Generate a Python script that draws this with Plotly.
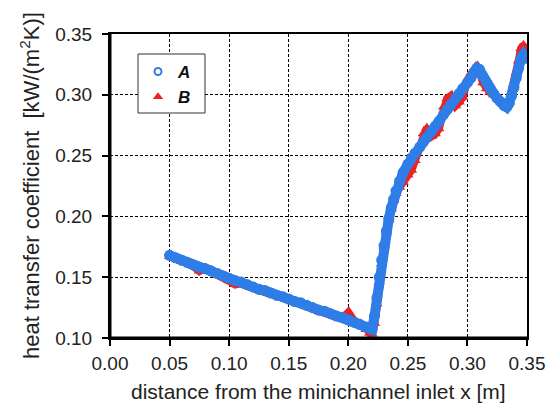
import plotly.graph_objects as go

x_pos = [0.050, 0.055, 0.060, 0.065, 0.070, 0.075, 0.080, 0.085, 0.090, 0.095,
         0.100, 0.105, 0.110, 0.115, 0.120, 0.125, 0.130, 0.135, 0.140, 0.145,
         0.150, 0.155, 0.160, 0.165, 0.170, 0.175, 0.180, 0.185, 0.190, 0.195,
         0.200, 0.205, 0.210, 0.215, 0.218, 0.220, 0.222, 0.224, 0.226, 0.228,
         0.230, 0.232, 0.234, 0.236, 0.238, 0.240, 0.243, 0.246, 0.250, 0.253,
         0.256, 0.260, 0.263, 0.266, 0.270, 0.273, 0.276, 0.280, 0.283, 0.286,
         0.290, 0.293, 0.296, 0.300, 0.303, 0.306, 0.308, 0.310, 0.313, 0.316,
         0.319, 0.322, 0.325, 0.328, 0.331, 0.333, 0.335, 0.337, 0.339, 0.341,
         0.343, 0.345, 0.347, 0.349]

h_A = [0.168, 0.166, 0.164, 0.162, 0.160, 0.158, 0.157, 0.155, 0.153, 0.151,
       0.149, 0.147, 0.146, 0.144, 0.142, 0.140, 0.139, 0.137, 0.135, 0.134,
       0.132, 0.130, 0.129, 0.127, 0.125, 0.123, 0.122, 0.120, 0.118, 0.117,
       0.115, 0.113, 0.111, 0.109, 0.108, 0.107, 0.118, 0.133, 0.150, 0.164,
       0.176, 0.188, 0.198, 0.207, 0.214, 0.221, 0.229, 0.236, 0.243, 0.248,
       0.252, 0.257, 0.261, 0.265, 0.270, 0.274, 0.278, 0.284, 0.288, 0.292,
       0.297, 0.301, 0.305, 0.310, 0.314, 0.319, 0.322, 0.321, 0.315, 0.310,
       0.305, 0.301, 0.297, 0.294, 0.291, 0.290, 0.293, 0.299, 0.306, 0.314,
       0.322, 0.330, 0.333, 0.330]

h_B = [0.167, 0.166, 0.163, 0.162, 0.159, 0.155, 0.158, 0.156, 0.152, 0.150,
       0.147, 0.144, 0.145, 0.143, 0.141, 0.140, 0.138, 0.136, 0.135, 0.133,
       0.131, 0.130, 0.128, 0.126, 0.125, 0.122, 0.121, 0.119, 0.117, 0.116,
       0.121, 0.114, 0.112, 0.107, 0.104, 0.103, 0.112, 0.128, 0.146, 0.161,
       0.175, 0.187, 0.197, 0.206, 0.213, 0.219, 0.224, 0.228, 0.234, 0.238,
       0.246, 0.258, 0.268, 0.273, 0.266, 0.268, 0.272, 0.290, 0.297, 0.299,
       0.291, 0.294, 0.298, 0.312, 0.318, 0.321, 0.323, 0.320, 0.310, 0.305,
       0.302, 0.300, 0.297, 0.294, 0.291, 0.290, 0.294, 0.301, 0.309, 0.318,
       0.328, 0.338, 0.341, 0.334]

x_ticks = [0.00, 0.05, 0.10, 0.15, 0.20, 0.25, 0.30, 0.35]
y_ticks = [0.10, 0.15, 0.20, 0.25, 0.30, 0.35]

BLUE = "#2f7de6"
RED = "#ee2222"
FONT = "Liberation Sans, Arial, sans-serif"

# plot area is 417 x 304 px
PW, PH = 417, 304

fig = go.Figure()
# data (B below A): connecting band + markers
fig.add_trace(go.Scatter(x=x_pos, y=h_B, mode="lines+markers", showlegend=False,
                         line=dict(color=RED, width=8),
                         marker=dict(symbol="triangle-up", size=10, color=RED)))
fig.add_trace(go.Scatter(x=x_pos, y=h_A, mode="lines+markers", showlegend=False,
                         line=dict(color=BLUE, width=10),
                         marker=dict(symbol="circle", size=11, color=BLUE)))
# legend entries
fig.add_trace(go.Scatter(x=[None], y=[None], mode="markers", name="<b><i>A</i></b>",
                         marker=dict(symbol="circle-open", size=7, color=BLUE,
                                     line=dict(width=2, color=BLUE))))
fig.add_trace(go.Scatter(x=[None], y=[None], mode="markers", name="<b><i>B</i></b>",
                         marker=dict(symbol="triangle-up", size=9, color=RED)))

axis_common = dict(showline=True, linecolor="black", linewidth=2, mirror=True,
                   ticks="outside", ticklen=6, tickwidth=2, tickcolor="black",
                   showgrid=True, gridcolor="black", gridwidth=1, griddash="3px,2px",
                   zeroline=False, tickfont=dict(family=FONT, size=19, color="#222"),
                   tickformat=".2f", automargin=False)

fig.update_xaxes(range=[0, 0.35], tickvals=x_ticks, ticklabelstandoff=1, **axis_common)
fig.update_yaxes(range=[0.10, 0.35], tickvals=y_ticks, ticklabelstandoff=6, **axis_common)

# axis titles (offsets in px from plot area, converted to paper units)
fig.add_annotation(text="distance from the minichannel inlet x [m]", xref="paper", yref="paper",
                   x=0.5, y=-53 / PH, xanchor="center", yanchor="middle",
                   showarrow=False, font=dict(family=FONT, size=21, color="#222"))
fig.add_annotation(text="heat transfer coefficient  [kW/(m<sup>2</sup>K)]", xref="paper",
                   yref="paper", x=-80 / PW, y=0.5, xanchor="center",
                   yanchor="middle", textangle=-90, showarrow=False,
                   font=dict(family=FONT, size=22, color="#222"))

# legend box
fig.add_shape(type="rect", xref="paper", yref="paper",
              x0=28/PW, x1=95/PW, y0=1-79/PH, y1=1-20/PH,
              fillcolor="white", line=dict(color="#333", width=1), layer="above")
# thicker left / bottom axis lines
fig.add_shape(type="line", xref="paper", yref="paper", x0=0, x1=0, y0=0, y1=1,
              line=dict(color="black", width=3), layer="above")
fig.add_shape(type="line", xref="paper", yref="paper", x0=0, x1=1, y0=0, y1=0,
              line=dict(color="black", width=3), layer="above")

# page body has an 8px default margin, so the figure is 546 x 396
fig.update_layout(
    width=546, height=396,
    margin=dict(l=102, r=27, t=26, b=66, autoexpand=False),
    paper_bgcolor="white", plot_bgcolor="white",
    legend=dict(x=28/PW, y=1-20/PH, xanchor="left", yanchor="top",
                bgcolor="rgba(0,0,0,0)", borderwidth=0,
                font=dict(family=FONT, size=17, color="#111"),
                itemwidth=30, tracegroupgap=0),
)

fig.write_html("out.html")
